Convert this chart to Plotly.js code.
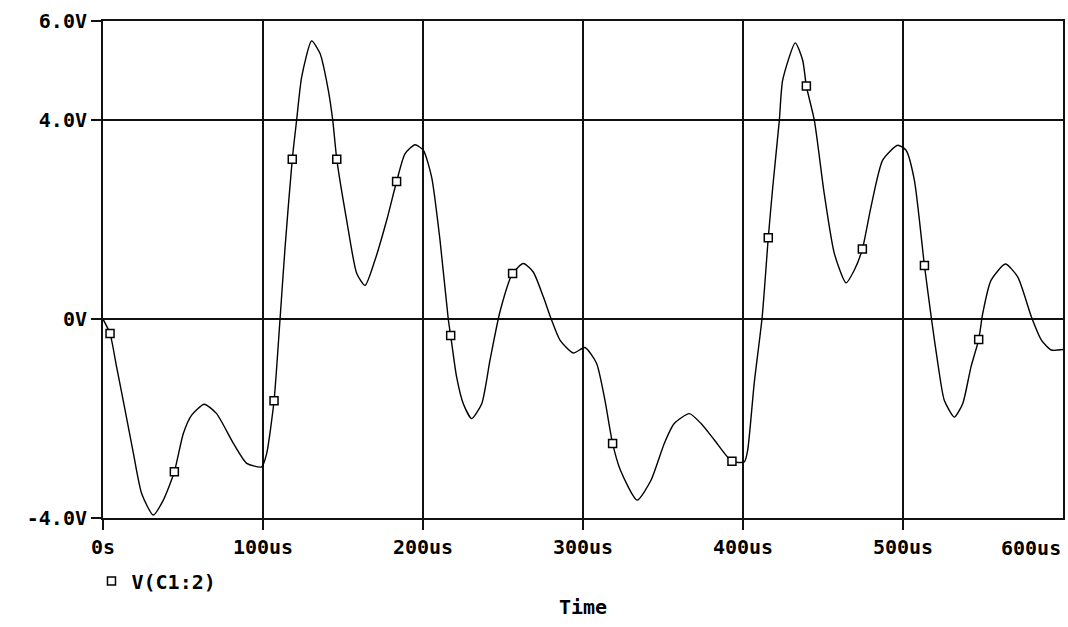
<!DOCTYPE html>
<html>
<head>
<meta charset="utf-8">
<script src="https://cdn.plot.ly/plotly-3.0.1.min.js"></script>
<style>
  html, body { margin: 0; padding: 0; background: #fff; }
  #chart { width: 1068px; height: 627px; }
</style>
</head>
<body>
<div id="chart"></div>
<script>
// Time (us) and voltage (V) of trace V(C1:2)
const timeUs = [0, 4.4, 8.5, 13.8, 19, 24.2, 31.4, 37.7, 44.6, 50.2, 55.4, 63.3, 71, 81.5, 89.8, 99.2,
  102.3, 106.9, 110.6, 113.8, 118.3, 121, 124.2, 130.4, 135.6, 140.8, 143.6, 146.1, 152.3, 158.6,
  163.8, 170, 177.3, 183.5, 188.8, 195, 200.2, 205.4, 210.6, 215.8, 217.3, 221, 225.2, 230.4,
  236.7, 241.9, 248.1, 256, 262.7, 268.9, 275.2, 280.4, 285.6, 293.9, 301.2, 308.5, 313.7, 318.5,
  323.4, 333.8, 342.5, 350.8, 357, 366.5, 373.8, 382.1, 393.1, 400.8, 402.9, 407, 412, 415.8,
  418.6, 422.7, 424.8, 432.7, 437.3, 439.6, 444.6, 450.8, 457.1, 464.4, 469.6, 474.6, 480, 487.3,
  496.7, 501.9, 507.1, 513.4, 517.9, 522.1, 525.8, 532.1, 537.3, 542.5, 547.3, 549.8, 555, 564,
  571.7, 580.2, 586.5, 592.7, 600];
const voltV = [0, -0.29, -0.96, -1.83, -2.70, -3.51, -3.94, -3.64, -3.07, -2.30, -1.93, -1.71, -1.90, -2.50, -2.90, -2.97,
  -2.70, -1.64, -0.02, 1.45, 3.22, 4.0, 4.88, 5.60, 5.35, 4.61, 4.0, 3.22, 1.99, 0.92,
  0.68, 1.19, 1.99, 2.77, 3.33, 3.51, 3.40, 2.86, 1.6, 0.0, -0.33, -1.16, -1.70, -2.0,
  -1.70, -0.82, 0.15, 0.92, 1.12, 0.95, 0.45, -0.02, -0.42, -0.68, -0.57, -0.89, -1.63, -2.50,
  -3.04, -3.64, -3.24, -2.50, -2.10, -1.90, -2.10, -2.43, -2.86, -2.87, -2.64, -1.29, 0.05, 1.64,
  2.66, 4.0, 4.81, 5.56, 5.21, 4.69, 4.0, 2.52, 1.32, 0.73, 0.99, 1.41, 2.26, 3.20,
  3.50, 3.40, 2.80, 1.08, -0.02, -0.96, -1.63, -1.97, -1.70, -0.96, -0.41, 0.11, 0.78, 1.11,
  0.85, 0.05, -0.42, -0.62, -0.61];

// Trace symbol positions (open squares)
const markerTimeUs = [4.4, 44.6, 106.9, 118.3, 146.1, 183.5, 217.3, 256, 318.5, 393.1, 415.8, 439.6, 474.6, 513.4, 547.3];
const markerVoltV = [-0.29, -3.07, -1.64, 3.22, 3.22, 2.77, -0.33, 0.92, -2.50, -2.86, 1.64, 4.69, 1.41, 1.08, -0.41];

// Axis ticks
const xTickVals = [0, 100, 200, 300, 400, 500, 600];
const xTickText = ["0s", "100us", "200us", "300us", "400us", "500us", "600us"];
const yTickVals = [-4, 0, 4, 6];
const yTickText = ["-4.0V", "0V", "4.0V", "6.0V"];
const traceName = "V(C1:2)";
const xTitle = "Time";

const FONT = { family: "DejaVu Sans Mono, Liberation Mono, monospace", size: 20, color: "#000", weight: "bold" };

const traces = [
  {
    x: timeUs, y: voltV, type: "scatter", mode: "lines",
    line: { color: "#000", width: 1.4, shape: "spline", smoothing: 0.6 },
    showlegend: false, hoverinfo: "skip"
  },
  {
    x: markerTimeUs, y: markerVoltV, type: "scatter", mode: "markers",
    name: traceName,
    marker: { symbol: "square", size: 8, color: "#fff", line: { color: "#000", width: 1.5 } },
    showlegend: true
  }
];

const layout = {
  width: 1068, height: 627,
  margin: { l: 103, r: 5, t: 21, b: 109, pad: 0 },
  paper_bgcolor: "#fff", plot_bgcolor: "#fff",
  font: FONT,
  xaxis: {
    range: [0, 600], tickvals: xTickVals.slice(0, 6), ticktext: xTickText.slice(0, 6),
    showgrid: true, gridcolor: "#111", gridwidth: 2,
    showline: true, linecolor: "#111", linewidth: 2, mirror: true,
    ticks: "outside", ticklen: 10, tickwidth: 2, tickcolor: "#111",
    zeroline: false, tickfont: FONT, fixedrange: true,
    title: { text: xTitle, font: FONT, standoff: 42 }
  },
  yaxis: {
    range: [-4, 6], tickvals: yTickVals, ticktext: yTickText,
    showgrid: true, gridcolor: "#111", gridwidth: 2,
    showline: true, linecolor: "#111", linewidth: 2, mirror: true,
    ticks: "outside", ticklen: 10, tickwidth: 2, tickcolor: "#111",
    zeroline: false, tickfont: FONT, fixedrange: true
  },
  showlegend: true,
  legend: {
    x: -0.012, y: -0.127, xanchor: "left", yanchor: "middle",
    bgcolor: "rgba(0,0,0,0)", borderwidth: 0, font: FONT,
    itemwidth: 30
  },
  annotations: [
    {
      xref: "x", yref: "paper", x: xTickVals[6], y: 0, xanchor: "right", yanchor: "top",
      yshift: -16, text: xTickText[6], showarrow: false, font: FONT
    }
  ]
};

Plotly.newPlot("chart", traces, layout, { displayModeBar: false, staticPlot: true });
</script>
</body>
</html>
